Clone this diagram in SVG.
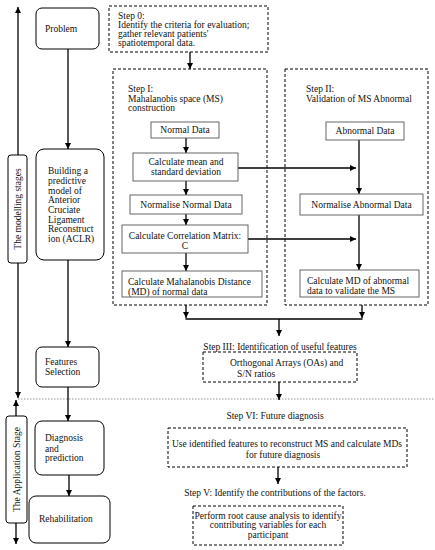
<svg xmlns="http://www.w3.org/2000/svg" width="435" height="550" viewBox="0 0 435 550">
<defs>
<marker id="ah" viewBox="0 0 6 6" refX="6" refY="3" markerWidth="6" markerHeight="6" markerUnits="userSpaceOnUse" orient="auto-start-reverse">
<path d="M0,0 L6,3 L0,6 z" fill="#000"/>
</marker>
<style>
text{font-family:"Liberation Serif","Times New Roman",serif;font-size:9.5px;fill:#111}
.c{text-anchor:middle}
.rb{fill:#fff;stroke:#000;stroke-width:1}
.sb{fill:#fff;stroke:#555;stroke-width:0.9}
.db{fill:none;stroke:#000;stroke-width:1;stroke-dasharray:3,2}
.ln{fill:none;stroke:#000;stroke-width:1.3}
.ar{fill:none;stroke:#000;stroke-width:1.3;marker-end:url(#ah)}
</style>
</defs>
<rect width="435" height="550" fill="#fff"/>

<g id="connectors">
<line class="ar" x1="18" y1="155" x2="18" y2="7" />
<line class="ar" x1="18" y1="263" x2="18" y2="398" />
<line class="ar" x1="16" y1="416" x2="16" y2="400" />
<line class="ar" x1="16" y1="523" x2="16" y2="544" />
<line x1="18" y1="399" x2="435" y2="399" stroke="#888" stroke-width="0.9" stroke-dasharray="1.5,1.5"/>
<line class="ar" x1="68" y1="49" x2="68" y2="149"/>
<line class="ar" x1="68" y1="260" x2="68" y2="347"/>
<line class="ar" x1="68" y1="387" x2="68" y2="421"/>
<line class="ar" x1="69" y1="475" x2="69" y2="496"/>
<line class="ar" x1="190" y1="52" x2="190" y2="69"/>
<line class="ar" x1="186" y1="138" x2="186" y2="153"/>
<line class="ar" x1="186" y1="181" x2="186" y2="195"/>
<line class="ar" x1="186" y1="214" x2="186" y2="225"/>
<line class="ar" x1="186" y1="253" x2="186" y2="271"/>
<line class="ar" x1="238" y1="168" x2="356" y2="168"/>
<line class="ar" x1="248" y1="239" x2="356" y2="239"/>
<line class="ar" x1="359" y1="140" x2="359" y2="194"/>
<line class="ar" x1="359" y1="215" x2="359" y2="270"/>
<line class="ar" x1="186" y1="305" x2="186" y2="318"/>
<line class="ar" x1="362" y1="305" x2="362" y2="318"/>
<line class="ln" x1="185.4" y1="319" x2="362.6" y2="319"/>
<line class="ar" x1="279" y1="319" x2="279" y2="336"/>
<line class="ar" x1="279" y1="382" x2="279" y2="400"/>
<line class="ar" x1="278" y1="467" x2="278" y2="484"/>
</g>

<g id="modelling-stages">
<rect class="rb" x="8" y="155" width="19" height="108" rx="3"/>
<text class="c" transform="translate(20.5,209) rotate(-90)">The modelling stages</text>
</g>
<g id="application-stage">
<rect class="rb" x="6" y="416" width="21" height="107" rx="3"/>
<text class="c" transform="translate(19.5,469.5) rotate(-90)">The Application Stage</text>
</g>

<g id="problem">
<rect class="rb" x="36" y="8" width="63" height="41" rx="6"/>
<text x="45" y="32">Problem</text>
</g>
<g id="building">
<rect class="rb" x="36" y="149" width="68" height="111" rx="8"/>
<text x="48" y="174">Building a</text>
<text x="48" y="184">predictive</text>
<text x="48" y="193.5">model of</text>
<text x="48" y="203">Anterior</text>
<text x="48" y="213">Cruciate</text>
<text x="48" y="222.5">Ligament</text>
<text x="48" y="232">Reconstruct</text>
<text x="48" y="242">ion (ACLR)</text>
</g>
<g id="features">
<rect class="rb" x="36" y="347" width="63" height="40" rx="6"/>
<text x="45" y="365">Features</text>
<text x="45" y="375">Selection</text>
</g>
<g id="diagnosis">
<rect class="rb" x="35" y="421" width="69" height="54" rx="7"/>
<text x="45" y="441">Diagnosis</text>
<text x="45" y="451.5">and</text>
<text x="45" y="461">prediction</text>
</g>
<g id="rehabilitation">
<rect class="rb" x="29" y="496" width="81" height="47" rx="7"/>
<text x="39" y="522">Rehabilitation</text>
</g>

<g id="step0">
<rect class="db" x="109" y="6" width="159" height="46"/>
<text x="118" y="19">Step 0:</text>
<text x="118" y="28">Identify the criteria for evaluation;</text>
<text x="118" y="37">gather relevant patients'</text>
<text x="118" y="46">spatiotemporal data.</text>
</g>

<g id="step1">
<rect class="db" x="113" y="69" width="154" height="236"/>
<text x="128" y="92">Step I:</text>
<text x="128" y="101.5">Mahalanobis space (MS)</text>
<text x="128" y="111">construction</text>
</g>
<g id="normal-data">
<rect class="sb" x="151" y="122" width="68" height="16"/>
<text class="c" x="185" y="133">Normal Data</text>
</g>
<g id="calc-mean">
<rect class="sb" x="133" y="153" width="105" height="28"/>
<text class="c" x="186" y="165">Calculate mean and</text>
<text class="c" x="186" y="175">standard deviation</text>
</g>
<g id="normalise-normal">
<rect class="sb" x="130" y="195" width="112" height="19"/>
<text class="c" x="186" y="207.5">Normalise Normal Data</text>
</g>
<g id="corr-matrix">
<rect class="sb" x="122" y="225" width="126" height="28"/>
<text class="c" x="185" y="238.5">Calculate Correlation Matrix:</text>
<text class="c" x="185" y="248.5">C</text>
</g>
<g id="md-normal">
<rect class="sb" x="122" y="271" width="140" height="26"/>
<text x="128" y="285">Calculate Mahalanobis Distance</text>
<text x="128" y="295">(MD) of normal data</text>
</g>

<g id="step2">
<rect class="db" x="285" y="69" width="143" height="236"/>
<text x="306" y="92">Step II:</text>
<text x="306" y="101.5">Validation of MS Abnormal</text>
</g>
<g id="abnormal-data">
<rect class="sb" x="326" y="122" width="78" height="18"/>
<text class="c" x="365" y="134">Abnormal Data</text>
</g>
<g id="normalise-abnormal">
<rect class="sb" x="300" y="194" width="123" height="21"/>
<text class="c" x="361.5" y="207.5">Normalise Abnormal Data</text>
</g>
<g id="md-abnormal">
<rect class="sb" x="300" y="270" width="119" height="27"/>
<text x="307" y="284">Calculate MD of abnormal</text>
<text x="307" y="294">data to validate the MS</text>
</g>

<g id="step3">
<text class="c" x="280" y="350">Step III: Identification of useful features</text>
<rect class="db" x="203" y="352" width="154" height="30"/>
<text x="230" y="366">Orthogonal Arrays (OAs) and</text>
<text x="237" y="377">S/N ratios</text>
</g>

<g id="step6">
<text class="c" x="275" y="419">Step VI: Future diagnosis</text>
<rect class="db" x="168" y="428" width="239" height="39"/>
<text class="c" x="287" y="447">Use identified features to reconstruct MS and calculate MDs</text>
<text class="c" x="283" y="457.5">for future diagnosis</text>
</g>

<g id="step5">
<text class="c" x="275" y="496">Step V: Identify the contributions of the factors.</text>
<rect class="db" x="193" y="506" width="150" height="39"/>
<text class="c" x="268" y="519">Perform root cause analysis to identify</text>
<text class="c" x="268" y="528">contributing variables for each</text>
<text class="c" x="268" y="537.5">participant</text>
</g>
</svg>
